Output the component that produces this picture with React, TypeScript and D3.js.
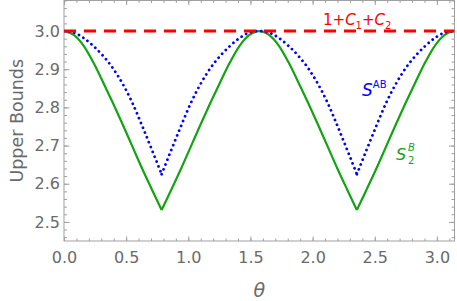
import React, { useEffect, useRef } from 'react';
import * as d3 from 'd3';

// theta grid (rad) and values
const theta = [
  0, 0.0785, 0.1571, 0.2356, 0.3142, 0.3927, 0.4712, 0.5498, 0.6283, 0.7069,
  0.7854, 0.8639, 0.9425, 1.021, 1.0996, 1.1781, 1.2566, 1.3352, 1.4137, 1.4923,
  1.5708, 1.6493, 1.7279, 1.8064, 1.885, 1.9635, 2.042, 2.1206, 2.1991, 2.2777,
  2.3562, 2.4347, 2.5133, 2.5918, 2.6704, 2.7489, 2.8274, 2.906, 2.9845, 3.0631,
  3.1416,
];

const sAB = [
  3.0, 2.996, 2.982, 2.961, 2.935, 2.903, 2.862, 2.812, 2.752, 2.689,
  2.625, 2.689, 2.752, 2.812, 2.862, 2.903, 2.935, 2.961, 2.982, 2.996,
  3.0, 2.996, 2.982, 2.961, 2.935, 2.903, 2.862, 2.812, 2.752, 2.689,
  2.625, 2.689, 2.752, 2.812, 2.862, 2.903, 2.935, 2.961, 2.982, 2.996,
  3.0,
];

const s2B = [
  3.0, 2.99, 2.962, 2.918, 2.866, 2.812, 2.756, 2.698, 2.64, 2.585,
  2.531, 2.585, 2.64, 2.698, 2.756, 2.812, 2.866, 2.918, 2.962, 2.99,
  3.0, 2.99, 2.962, 2.918, 2.866, 2.812, 2.756, 2.698, 2.64, 2.585,
  2.531, 2.585, 2.64, 2.698, 2.756, 2.812, 2.866, 2.918, 2.962, 2.99,
  3.0,
];

const boundTheta = [0, Math.PI];
const bound = [3.0, 3.0];

// cusp indices (curves are smooth between these)
const cusps = [0, 10, 30, 40];

const xTicks = [0, 0.5, 1.0, 1.5, 2.0, 2.5, 3.0];
const yTicks = [2.5, 2.6, 2.7, 2.8, 2.9, 3.0];

const FONT = '"DejaVu Sans", Verdana, sans-serif';
const GRAY = '#6a6a6a';

const App = () => {
  const ref = useRef<SVGSVGElement>(null);

  useEffect(() => {
    if (!ref.current) return;
    const width = 457;
    const height = 301;
    const left = 64, right = 454.5, top = 0.5, bottom = 241;

    const svg = d3.select(ref.current).attr('width', width).attr('height', height);
    svg.selectAll('*').remove();

    const x = d3.scaleLinear().domain([0, Math.PI]).range([left, right]);
    const y = d3.scaleLinear().domain([2.45, 3.08]).range([bottom, top]);

    const styleAxis = (g) => {
      g.select('.domain').remove();
      g.selectAll('line').attr('stroke', '#a0a0a0');
      g.selectAll('text')
        .attr('fill', GRAY)
        .style('font-size', '16px')
        .style('font-family', FONT);
    };

    const xMinor = d3.range(0, 3.15, 0.1);
    const yMinor = d3.range(2.46, 3.081, 0.02);

    // bottom
    svg.append('g').attr('transform', `translate(0,${bottom})`)
      .call(d3.axisBottom(x).tickValues(xMinor).tickSize(-2.5).tickFormat(() => ''))
      .call(styleAxis);
    svg.append('g').attr('transform', `translate(0,${bottom})`)
      .call(d3.axisBottom(x).tickValues(xTicks).tickSize(-4.5).tickPadding(11).tickFormat(d3.format('.1f')))
      .call(styleAxis);
    // top
    svg.append('g').attr('transform', `translate(0,${top})`)
      .call(d3.axisTop(x).tickValues(xMinor).tickSize(-2.5).tickFormat(() => ''))
      .call(styleAxis);
    svg.append('g').attr('transform', `translate(0,${top})`)
      .call(d3.axisTop(x).tickValues(xTicks).tickSize(-4.5).tickFormat(() => ''))
      .call(styleAxis);
    // left
    svg.append('g').attr('transform', `translate(${left},0)`)
      .call(d3.axisLeft(y).tickValues(yMinor).tickSize(-3).tickFormat(() => ''))
      .call(styleAxis);
    svg.append('g').attr('transform', `translate(${left},0)`)
      .call(d3.axisLeft(y).tickValues(yTicks).tickSize(-5.5).tickPadding(4).tickFormat(d3.format('.1f')))
      .call(styleAxis);
    // right
    svg.append('g').attr('transform', `translate(${right},0)`)
      .call(d3.axisRight(y).tickValues(yMinor).tickSize(-3).tickFormat(() => ''))
      .call(styleAxis);
    svg.append('g').attr('transform', `translate(${right},0)`)
      .call(d3.axisRight(y).tickValues(yTicks).tickSize(-5.5).tickFormat(() => ''))
      .call(styleAxis);

    // frame
    svg.append('rect')
      .attr('x', left).attr('y', top)
      .attr('width', right - left).attr('height', bottom - top)
      .attr('fill', 'none').attr('stroke', '#a0a0a0').attr('stroke-width', 1);

    svg.append('clipPath').attr('id', 'plot-clip')
      .append('rect')
      .attr('x', left).attr('y', top - 2)
      .attr('width', right - left).attr('height', bottom - top + 2);

    const plot = svg.append('g').attr('clip-path', 'url(#plot-clip)');

    const curvePath = (vals) => {
      const line = d3.line<number>()
        .x(i => x(theta[i]))
        .y(i => y(vals[i]))
        .curve(d3.curveMonotoneX);
      const parts = [];
      for (let s = 0; s < cusps.length - 1; s++) {
        parts.push(line(d3.range(cusps[s], cusps[s + 1] + 1)));
      }
      return parts.join('');
    };

    // S_2^B
    plot.append('path')
      .attr('d', curvePath(s2B))
      .attr('fill', 'none')
      .attr('stroke', '#13a313')
      .attr('stroke-width', 2.2)
      .attr('stroke-linejoin', 'miter');

    // S^AB
    plot.append('path')
      .attr('d', curvePath(sAB))
      .attr('fill', 'none')
      .attr('stroke', '#0000ff')
      .attr('stroke-width', 2.8)
      .attr('stroke-linecap', 'round')
      .attr('stroke-dasharray', '0.01 5.2');

    // 1 + C1 + C2
    const boundLine = d3.line<number>()
      .x(i => x(boundTheta[i]))
      .y(i => y(bound[i]));
    plot.append('path')
      .attr('d', boundLine([0, 1]))
      .attr('fill', 'none')
      .attr('stroke', '#ff0000')
      .attr('stroke-width', 3)
      .attr('stroke-dasharray', '12 8');

    // annotations
    const red = svg.append('text')
      .attr('x', 323).attr('y', 25)
      .attr('fill', '#ff0000')
      .style('font-family', FONT)
      .style('font-size', '15px');
    red.append('tspan').text('1+');
    red.append('tspan').style('font-style', 'italic').text('C');
    red.append('tspan').attr('dy', 4).style('font-size', '10px').text('1');
    red.append('tspan').attr('dy', -4).text('+');
    red.append('tspan').style('font-style', 'italic').text('C');
    red.append('tspan').attr('dy', 4).style('font-size', '10px').text('2');

    const blue = svg.append('text')
      .attr('x', 362).attr('y', 96)
      .attr('fill', '#0000ff')
      .style('font-family', FONT)
      .style('font-size', '17px');
    blue.append('tspan').style('font-style', 'italic').text('S');
    blue.append('tspan').attr('dy', -8).style('font-size', '10px').text('AB');

    const green = svg.append('text')
      .attr('x', 396).attr('y', 160)
      .attr('fill', '#13a313')
      .style('font-family', FONT)
      .style('font-size', '16px');
    green.append('tspan').style('font-style', 'italic').text('S');
    green.append('tspan').attr('x', 408).attr('dy', 4).style('font-size', '10px').text('2');
    green.append('tspan').attr('x', 408).attr('dy', -13).style('font-size', '10px')
      .style('font-style', 'italic').text('B');

    // axis labels
    svg.append('text')
      .attr('x', (left + right) / 2).attr('y', 297)
      .attr('text-anchor', 'middle')
      .attr('fill', GRAY)
      .style('font-family', FONT)
      .style('font-size', '19px')
      .style('font-style', 'italic')
      .text('θ');

    svg.append('text')
      .attr('transform', `translate(23,${(top + bottom) / 2}) rotate(-90)`)
      .attr('text-anchor', 'middle')
      .attr('fill', GRAY)
      .style('font-family', FONT)
      .style('font-size', '17.5px')
      .text('Upper Bounds');
  }, []);

  return <svg ref={ref} style={{ position: 'absolute', left: 0, top: 0 }} />;
};

export default App;
